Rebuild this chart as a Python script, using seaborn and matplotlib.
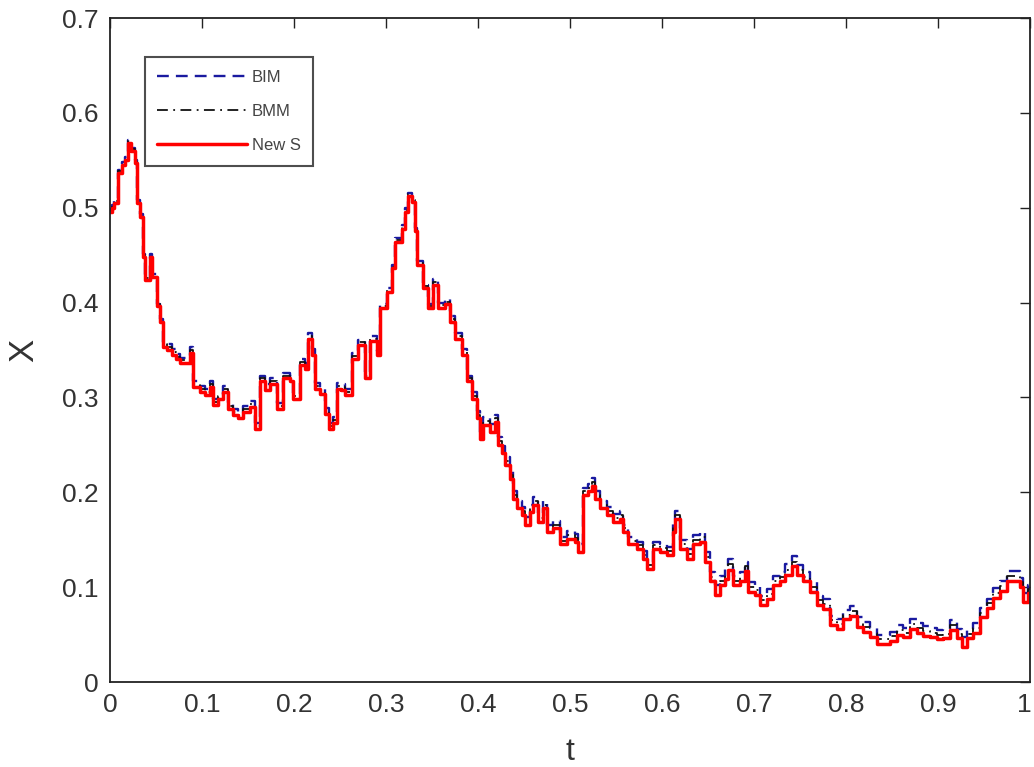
import matplotlib
matplotlib.use("Agg")
import matplotlib.pyplot as plt
import matplotlib.transforms as mtransforms
import seaborn as sns
import numpy as np

# ---- data ----
t = [0.000, 0.002, 0.004, 0.009, 0.013, 0.016, 0.020, 0.023, 0.027, 0.029,
     0.033, 0.036, 0.038, 0.043, 0.046, 0.051, 0.054, 0.058, 0.062, 0.067,
     0.072, 0.076, 0.082, 0.087, 0.090, 0.098, 0.103, 0.109, 0.112, 0.117,
     0.123, 0.128, 0.134, 0.139, 0.145, 0.152, 0.158, 0.163, 0.168, 0.174,
     0.182, 0.188, 0.196, 0.199, 0.207, 0.212, 0.215, 0.220, 0.223, 0.228,
     0.234, 0.238, 0.242, 0.247, 0.251, 0.255, 0.263, 0.270, 0.277, 0.283,
     0.290, 0.293, 0.301, 0.307, 0.310, 0.317, 0.321, 0.324, 0.328, 0.332,
     0.334, 0.340, 0.346, 0.351, 0.357, 0.364, 0.370, 0.375, 0.383, 0.388,
     0.393, 0.399, 0.402, 0.405, 0.413, 0.418, 0.422, 0.426, 0.429, 0.435,
     0.438, 0.442, 0.448, 0.451, 0.457, 0.460, 0.465, 0.471, 0.475, 0.482,
     0.489, 0.497, 0.505, 0.509, 0.514, 0.520, 0.524, 0.527, 0.533, 0.540,
     0.547, 0.554, 0.558, 0.563, 0.573, 0.579, 0.584, 0.590, 0.598, 0.605,
     0.612, 0.614, 0.620, 0.627, 0.634, 0.641, 0.647, 0.652, 0.658, 0.663,
     0.668, 0.672, 0.677, 0.685, 0.690, 0.693, 0.701, 0.707, 0.714, 0.721,
     0.728, 0.734, 0.741, 0.747, 0.753, 0.761, 0.768, 0.775, 0.783, 0.790,
     0.797, 0.804, 0.812, 0.818, 0.826, 0.834, 0.840, 0.848, 0.855, 0.862,
     0.870, 0.877, 0.884, 0.891, 0.899, 0.905, 0.913, 0.921, 0.926, 0.932,
     0.938, 0.946, 0.953, 0.960, 0.967, 0.975, 0.982, 0.989, 0.992, 0.998,
     1.000]

new_s = [0.496, 0.500, 0.505, 0.537, 0.545, 0.550, 0.568, 0.560, 0.547, 0.505,
         0.490, 0.448, 0.424, 0.448, 0.427, 0.396, 0.380, 0.353, 0.350, 0.345,
         0.340, 0.336, 0.336, 0.347, 0.311, 0.306, 0.303, 0.311, 0.292, 0.298,
         0.306, 0.288, 0.282, 0.278, 0.285, 0.290, 0.267, 0.317, 0.308, 0.314,
         0.288, 0.320, 0.317, 0.298, 0.334, 0.330, 0.362, 0.345, 0.309, 0.304,
         0.283, 0.267, 0.273, 0.309, 0.308, 0.303, 0.341, 0.355, 0.320, 0.359,
         0.345, 0.394, 0.411, 0.436, 0.464, 0.478, 0.496, 0.512, 0.506, 0.475,
         0.440, 0.415, 0.394, 0.419, 0.394, 0.398, 0.380, 0.362, 0.345, 0.317,
         0.298, 0.278, 0.256, 0.271, 0.264, 0.274, 0.250, 0.241, 0.229, 0.214,
         0.193, 0.183, 0.176, 0.166, 0.179, 0.187, 0.169, 0.183, 0.158, 0.162,
         0.145, 0.151, 0.148, 0.137, 0.197, 0.201, 0.207, 0.193, 0.183, 0.176,
         0.169, 0.172, 0.158, 0.145, 0.140, 0.130, 0.119, 0.140, 0.137, 0.134,
         0.158, 0.172, 0.140, 0.130, 0.145, 0.148, 0.127, 0.106, 0.092, 0.102,
         0.109, 0.118, 0.102, 0.106, 0.117, 0.095, 0.092, 0.081, 0.088, 0.102,
         0.106, 0.113, 0.122, 0.113, 0.106, 0.095, 0.081, 0.077, 0.060, 0.056,
         0.066, 0.070, 0.058, 0.053, 0.047, 0.040, 0.040, 0.043, 0.050, 0.047,
         0.056, 0.052, 0.049, 0.047, 0.045, 0.046, 0.055, 0.046, 0.037, 0.046,
         0.052, 0.068, 0.078, 0.089, 0.096, 0.107, 0.107, 0.100, 0.084, 0.094,
         0.092]

bim = [0.499, 0.503, 0.508, 0.540, 0.548, 0.553, 0.571, 0.563, 0.550, 0.508,
       0.493, 0.451, 0.427, 0.451, 0.430, 0.399, 0.383, 0.358, 0.356, 0.351,
       0.346, 0.342, 0.342, 0.353, 0.317, 0.312, 0.309, 0.317, 0.298, 0.304,
       0.312, 0.294, 0.288, 0.284, 0.291, 0.296, 0.273, 0.323, 0.314, 0.320,
       0.294, 0.326, 0.323, 0.304, 0.340, 0.336, 0.368, 0.351, 0.315, 0.310,
       0.289, 0.273, 0.279, 0.315, 0.314, 0.309, 0.347, 0.361, 0.326, 0.365,
       0.349, 0.398, 0.415, 0.440, 0.468, 0.482, 0.500, 0.516, 0.510, 0.479,
       0.444, 0.419, 0.398, 0.425, 0.400, 0.404, 0.386, 0.368, 0.351, 0.323,
       0.306, 0.286, 0.264, 0.279, 0.272, 0.282, 0.258, 0.249, 0.237, 0.222,
       0.201, 0.191, 0.184, 0.174, 0.187, 0.195, 0.177, 0.191, 0.166, 0.170,
       0.153, 0.159, 0.156, 0.145, 0.205, 0.209, 0.215, 0.201, 0.191, 0.184,
       0.177, 0.180, 0.166, 0.153, 0.148, 0.138, 0.127, 0.148, 0.145, 0.142,
       0.168, 0.180, 0.150, 0.140, 0.155, 0.158, 0.137, 0.116, 0.102, 0.112,
       0.119, 0.130, 0.112, 0.116, 0.127, 0.105, 0.102, 0.091, 0.098, 0.112,
       0.116, 0.124, 0.133, 0.123, 0.116, 0.105, 0.091, 0.087, 0.070, 0.066,
       0.076, 0.080, 0.068, 0.063, 0.057, 0.050, 0.050, 0.053, 0.060, 0.057,
       0.066, 0.062, 0.059, 0.057, 0.055, 0.056, 0.065, 0.056, 0.047, 0.056,
       0.062, 0.078, 0.088, 0.099, 0.106, 0.117, 0.117, 0.110, 0.094, 0.102,
       0.098]

bmm = [0.497, 0.501, 0.507, 0.539, 0.547, 0.552, 0.570, 0.562, 0.549, 0.507,
       0.492, 0.450, 0.426, 0.450, 0.429, 0.398, 0.382, 0.356, 0.353, 0.348,
       0.343, 0.339, 0.339, 0.350, 0.314, 0.309, 0.306, 0.314, 0.295, 0.301,
       0.309, 0.291, 0.285, 0.281, 0.288, 0.293, 0.270, 0.320, 0.311, 0.317,
       0.291, 0.323, 0.320, 0.301, 0.337, 0.333, 0.365, 0.348, 0.312, 0.307,
       0.286, 0.270, 0.276, 0.312, 0.311, 0.306, 0.344, 0.358, 0.323, 0.362,
       0.347, 0.396, 0.413, 0.438, 0.466, 0.480, 0.498, 0.514, 0.508, 0.477,
       0.442, 0.417, 0.396, 0.422, 0.397, 0.401, 0.383, 0.365, 0.348, 0.320,
       0.302, 0.282, 0.260, 0.275, 0.268, 0.278, 0.254, 0.245, 0.233, 0.218,
       0.197, 0.187, 0.180, 0.170, 0.183, 0.191, 0.173, 0.187, 0.162, 0.166,
       0.149, 0.155, 0.152, 0.141, 0.201, 0.205, 0.211, 0.197, 0.187, 0.180,
       0.173, 0.176, 0.162, 0.149, 0.144, 0.134, 0.123, 0.144, 0.141, 0.138,
       0.163, 0.176, 0.145, 0.135, 0.150, 0.153, 0.132, 0.111, 0.097, 0.107,
       0.114, 0.124, 0.107, 0.111, 0.122, 0.100, 0.097, 0.086, 0.093, 0.107,
       0.111, 0.118, 0.127, 0.118, 0.111, 0.100, 0.086, 0.082, 0.065, 0.061,
       0.071, 0.075, 0.063, 0.058, 0.052, 0.045, 0.045, 0.048, 0.055, 0.052,
       0.061, 0.057, 0.054, 0.052, 0.050, 0.051, 0.060, 0.051, 0.042, 0.051,
       0.057, 0.073, 0.083, 0.094, 0.101, 0.112, 0.112, 0.105, 0.089, 0.098,
       0.096]

labels = ["BIM", "BMM", "New S"]
x_ticks = [0, 0.1, 0.2, 0.3, 0.4, 0.5, 0.6, 0.7, 0.8, 0.9, 1]
x_tick_labels = ["0", "0.1", "0.2", "0.3", "0.4", "0.5", "0.6", "0.7", "0.8", "0.9", "1"]
y_ticks = [0, 0.1, 0.2, 0.3, 0.4, 0.5, 0.6, 0.7]
y_tick_labels = ["0", "0.1", "0.2", "0.3", "0.4", "0.5", "0.6", "0.7"]

# ---- style ----
sns.set_theme(style="white")
plt.rcParams["font.family"] = ["Liberation Sans", "DejaVu Sans"]

fig = plt.figure(figsize=(10.34, 7.67), dpi=100)
ax = fig.add_axes([110 / 1034, 1 - 682 / 767, 920 / 1034, 664 / 767])

sns.lineplot(x=t, y=bim, ax=ax, color="#1a1aa0", linestyle=(0, (5, 3)),
             linewidth=1.7, drawstyle="steps-post", estimator=None, sort=False,
             label=labels[0])
sns.lineplot(x=t, y=bmm, ax=ax, color="#111111", linestyle=(0, (6, 3, 1, 3)),
             linewidth=1.3, drawstyle="steps-post", estimator=None, sort=False,
             label=labels[1])
sns.lineplot(x=t, y=new_s, ax=ax, color="#ff0000", linestyle="-",
             linewidth=2.5, drawstyle="steps-post", estimator=None, sort=False,
             label=labels[2])

ax.set_xlim(0, 1)
ax.set_ylim(0, 0.7)
ax.set_xticks(x_ticks)
ax.set_xticklabels(x_tick_labels)
ax.set_yticks(y_ticks)
ax.set_yticklabels(y_tick_labels)
ax.tick_params(direction="in", length=7, width=1.0, top=True, right=True,
               labelsize=19, colors="#222222", pad=8)
ax.tick_params(axis="both", labelcolor="#333333")
for s in ax.spines.values():
    s.set_color("#222222")
    s.set_linewidth(1.3)

# keep the last x tick label ("1") inside the canvas
last = ax.get_xticklabels()[-1]
last.set_transform(last.get_transform() +
                   mtransforms.ScaledTranslation(-6 / 100, 0, fig.dpi_scale_trans))

ax.set_xlabel("t", fontsize=23, color="#333333", labelpad=14)
ax.set_ylabel("X", fontsize=25, color="#333333", labelpad=16)

leg = ax.legend(loc="upper left", bbox_to_anchor=(0.038, 0.941),
                borderaxespad=0, fontsize=12, handlelength=5.4,
                fancybox=False, frameon=True, borderpad=0.75,
                labelspacing=1.15, handletextpad=0.25)
leg.get_frame().set_edgecolor("#222222")
leg.get_frame().set_linewidth(1.5)
for txt in leg.get_texts():
    txt.set_color("#444444")

fig.savefig("out.png", dpi=100, facecolor="white")
